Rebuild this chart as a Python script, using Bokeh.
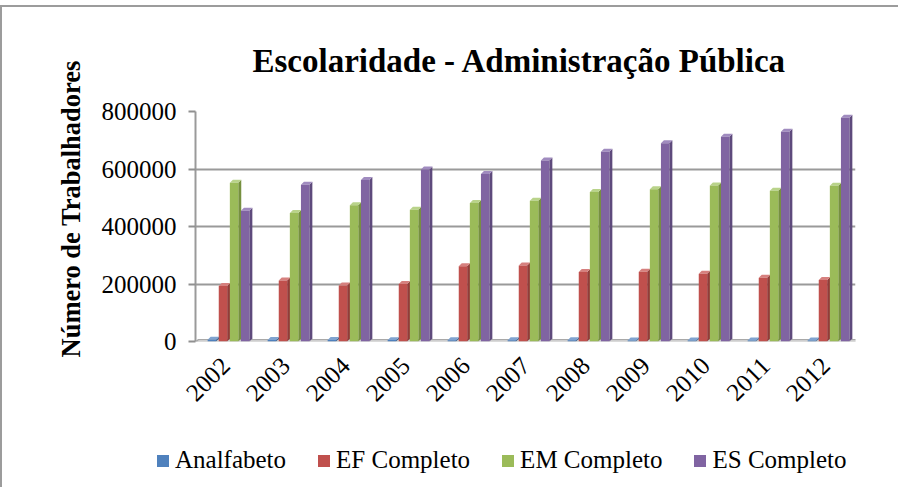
from bokeh.plotting import figure
from bokeh.layouts import column
from bokeh.models import Range1d, FixedTicker, Legend, LegendItem, ColumnDataSource, Title
from bokeh.embed import file_html
from bokeh.resources import INLINE

years = ["2002", "2003", "2004", "2005", "2006", "2007", "2008", "2009", "2010", "2011", "2012"]
series_names = ["Analfabeto", "EF Completo", "EM Completo", "ES Completo"]
analfabeto = [6000, 5500, 5000, 4800, 4500, 4300, 4000, 3800, 3600, 3400, 3200]
ef_completo = [193000, 212000, 195000, 200000, 262000, 264000, 242000, 243000, 236000, 222000, 214000]
em_completo = [552000, 447000, 474000, 458000, 482000, 490000, 520000, 530000, 543000, 524000, 542000]
es_completo = [455000, 545000, 562000, 598000, 583000, 630000, 660000, 690000, 712000, 730000, 778000]
y_ticks = [0, 200000, 400000, 600000, 800000]

front_colors = ["#4F81BD", "#C0504D", "#9BBB59", "#8064A2"]
side_colors = ["#3A6290", "#923C3A", "#76903F", "#5E4A7C"]
top_colors = ["#7FA3D0", "#D6807E", "#B9D38A", "#A08BBF"]

FONT = "Liberation Serif"

p = figure(width=896, height=425, output_backend="svg", toolbar_location=None,
           x_range=Range1d(-0.5, 10.5), y_range=Range1d(0, 800000),
           min_border_left=193, min_border_right=43, min_border_top=102, min_border_bottom=91)
p.frame_align = False
p.outline_line_color = None
p.background_fill_color = "white"
p.border_fill_color = "white"

# title
p.title.text = "Escolaridade - Administração Pública"
p.title.text_font = FONT
p.title.text_font_size = "33px"
p.title.text_font_style = "bold"
p.title.text_color = "black"
p.title.align = "left"
p.title.offset = 57
p.title.standoff = 66

# axes
p.xaxis.ticker = FixedTicker(ticks=list(range(len(years))))
p.xaxis.major_label_overrides = {i: y for i, y in enumerate(years)}
p.xaxis.major_label_orientation = 0.785398
p.xaxis.major_label_text_font = FONT
p.xaxis.major_label_text_font_size = "25px"
p.xaxis.major_label_text_color = "black"
p.xaxis.major_tick_line_color = None
p.xaxis.minor_tick_line_color = None
p.xaxis.axis_line_color = None
p.xaxis.major_label_standoff = 14

p.yaxis.ticker = FixedTicker(ticks=y_ticks)
p.yaxis.formatter.use_scientific = False
p.yaxis.major_label_text_font = FONT
p.yaxis.major_label_text_font_size = "25px"
p.yaxis.major_label_text_color = "black"
p.yaxis.major_tick_out = 7
p.yaxis.major_tick_in = 0
p.yaxis.major_tick_line_color = "#909090"
p.yaxis.major_tick_line_width = 2
p.yaxis.minor_tick_line_color = None
p.yaxis.axis_line_color = "#9a9a9a"
p.yaxis.axis_line_width = 2
p.yaxis.major_label_standoff = 12

ylab = Title(text="Número de Trabalhadores", align="left", offset=-16, standoff=26,
             text_font=FONT, text_font_size="26.5px", text_font_style="bold", text_color="black")
p.add_layout(ylab, "left")

p.xgrid.grid_line_color = None
p.ygrid.ticker = FixedTicker(ticks=y_ticks)
p.ygrid.grid_line_color = "#9a9a9a"
p.ygrid.grid_line_width = 2

# floor of the 3D box
dx = 0.05
dy = 10400
p.patch([-0.5, 10.5, 10.5 + dx, -0.5 + dx], [-dy * 0.2, -dy * 0.2, dy * 0.6, dy * 0.6],
        fill_color="#f4f4f4", line_color="#a8a8a8", line_width=1.5)

# legend-only figure
lf = figure(width=896, height=55, output_backend="svg", toolbar_location=None,
            x_axis_type=None, y_axis_type=None, x_range=Range1d(0, 1), y_range=Range1d(0, 1),
            min_border=0, min_border_left=0, min_border_right=0, min_border_top=0,
            min_border_bottom=0)
lf.frame_align = False
lf.outline_line_color = None
lf.xgrid.visible = False
lf.ygrid.visible = False
lf.background_fill_color = "white"
lf.border_fill_color = "white"

all_series = [analfabeto, ef_completo, em_completo, es_completo]
front_w = 0.14
step = 0.185
legend_items = []
for k, (name, vals) in enumerate(zip(series_names, all_series)):
    xs = [i + (k - 1.5) * step + 0.05 for i in range(len(years))]
    xl = [x - front_w / 2 for x in xs]
    xr = [x + front_w / 2 for x in xs]
    side_x = [[r, r + dx, r + dx, r] for r in xr]
    side_y = [[0, dy, v + dy, v] for v in vals]
    top_x = [[l, r, r + dx, l + dx] for l, r in zip(xl, xr)]
    top_y = [[v, v, v + dy, v + dy] for v in vals]
    p.patches(side_x, side_y, fill_color=side_colors[k], line_color=None)
    p.patches(top_x, top_y, fill_color=top_colors[k], line_color=None)
    src = ColumnDataSource(dict(x=xs, top=vals))
    p.vbar(x="x", top="top", bottom=0, width=front_w, source=src,
           fill_color=front_colors[k], line_color=None)
    # legend key renderer (kept outside the visible range of the legend strip)
    dummy = lf.vbar(x=[-10], top=[-10], bottom=-11, width=0.1,
                    fill_color=front_colors[k], line_color=None)
    legend_items.append(LegendItem(label=name, renderers=[dummy]))

legend = Legend(items=legend_items, orientation="horizontal", location=(153, 13))
legend.label_text_font = FONT
legend.label_text_font_size = "25px"
legend.label_text_color = "black"
legend.glyph_width = 15
legend.glyph_height = 15
legend.label_standoff = 5
legend.spacing = 30
legend.padding = 0
legend.margin = 0
legend.border_line_color = None
legend.background_fill_alpha = 0
lf.add_layout(legend, "center")

layout = column(p, lf, spacing=0)
layout.styles = {"border-top": "2px solid #9c9c9c", "border-left": "2px solid #9c9c9c",
                 "margin-top": "5px"}

open("out.html", "w").write(file_html(layout, INLINE))
